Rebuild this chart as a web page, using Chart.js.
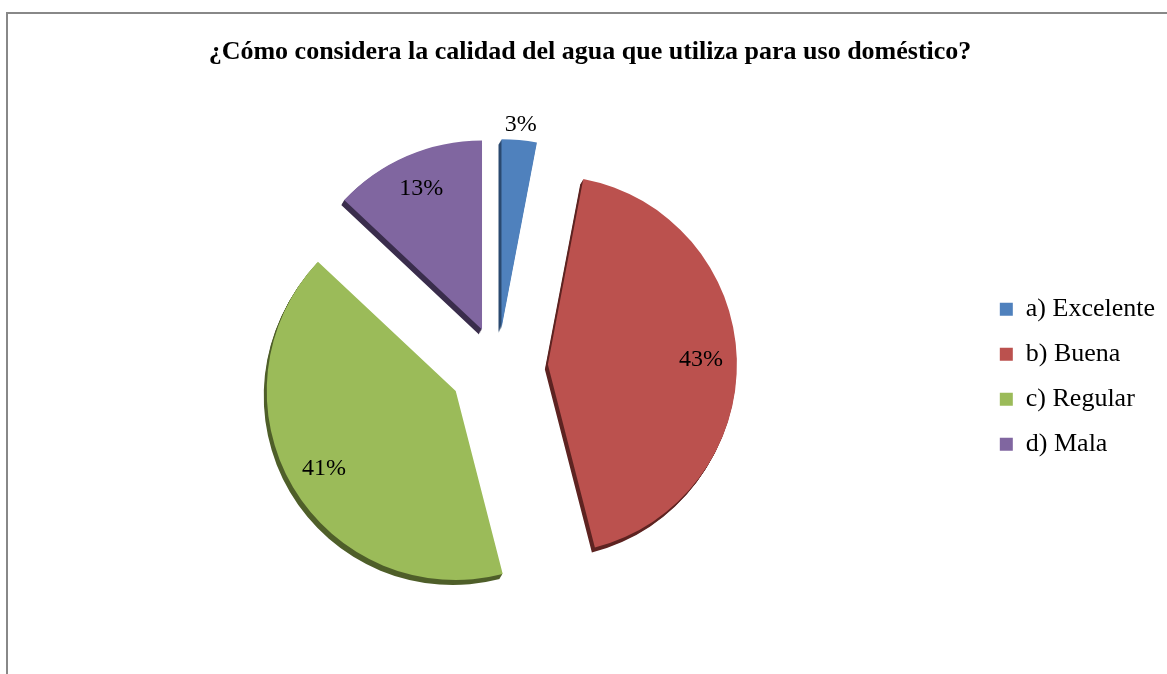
<!DOCTYPE html>
<html>
<head>
<meta charset="utf-8">
<script src="https://cdn.jsdelivr.net/npm/chart.js@4.4.1/dist/chart.umd.min.js"></script>
<style>
  html, body { margin: 0; padding: 0; background: #fff; }
  #wrap { position: relative; width: 1167px; height: 674px; overflow: hidden; }
  #frame { position: absolute; left: 6px; top: 12px; right: -2px; bottom: -2px;
           border-top: 2px solid #888; border-left: 2px solid #888; pointer-events: none; }
  canvas { position: absolute; left: 0; top: 0; }
</style>
</head>
<body>
<div id="wrap">
  <canvas id="chart" width="1167" height="674"></canvas>
  <div id="frame"></div>
</div>
<script>
const title = '¿Cómo considera la calidad del agua que utiliza para uso doméstico?';
const categories = ['a) Excelente', 'b) Buena', 'c) Regular', 'd) Mala'];
const percents = [3, 43, 41, 13];

// styling
const colors = ['#4f81bd', '#bb514e', '#9bbb59', '#8066a0'];
const depthColors = ['#2c4a70', '#5e2422', '#4f5f2a', '#3a2d4c'];
const explode = [38, 50, 49, 40];
const serif = '"Liberation Serif", "Times New Roman", serif';

// slices pulled out by a plain translation (Chart.js's own offset also grows the radius)
const baseArcDraw = Chart.ArcElement.prototype.draw;
Chart.ArcElement.prototype.draw = function (ctx) {
  const o = this.options;
  const d = o.offset || 0;
  const mid = (this.startAngle + this.endAngle) / 2;
  const i = colors.indexOf(o.backgroundColor);
  ctx.save();
  ctx.translate(Math.cos(mid) * d, Math.sin(mid) * d);
  // fake 3d edge
  if (i >= 0) {
    this.options = Object.assign({}, o, { offset: 0, backgroundColor: depthColors[i], borderColor: depthColors[i] });
    for (let k = 5; k >= 1; k--) {
      ctx.save();
      ctx.translate(-0.6 * k, k);
      baseArcDraw.call(this, ctx);
      ctx.restore();
    }
  }
  this.options = Object.assign({}, o, { offset: 0 });
  baseArcDraw.call(this, ctx);
  this.options = o;
  ctx.restore();
};

const pctLabels = {
  id: 'pctLabels',
  afterDatasetsDraw(chart) {
    const ctx = chart.ctx;
    const meta = chart.getDatasetMeta(0);
    const total = percents.reduce((a, b) => a + b, 0);
    ctx.save();
    ctx.font = '24px ' + serif;
    ctx.fillStyle = '#000';
    ctx.textAlign = 'center';
    ctx.textBaseline = 'middle';
    meta.data.forEach((arc, i) => {
      const mid = (arc.startAngle + arc.endAngle) / 2;
      const p = Math.round(percents[i] / total * 100);
      const dist = explode[i] + (p < 5 ? arc.outerRadius + 15 : arc.outerRadius * 0.81);
      ctx.fillText(p + '%', arc.x + Math.cos(mid) * dist, arc.y + Math.sin(mid) * dist);
    });
    ctx.restore();
  }
};

new Chart(document.getElementById('chart'), {
  type: 'pie',
  data: {
    labels: categories,
    datasets: [{
      data: percents,
      backgroundColor: colors,
      borderWidth: 0,
      offset: explode
    }]
  },
  options: {
    responsive: false,
    animation: false,
    radius: 189,
    layout: { padding: { left: 15, right: 2, top: 0, bottom: 16 } },
    plugins: {
      title: {
        display: true,
        text: title,
        color: '#000',
        font: { family: serif, size: 26, weight: 'bold' },
        padding: { top: 37, bottom: 6 }
      },
      legend: {
        position: 'right',
        fullSize: false,
        title: { display: true, text: '', font: { size: 1 }, padding: { top: 10, bottom: 10 } },
        labels: {
          color: '#000',
          font: { family: serif, size: 26 },
          boxWidth: 13,
          boxHeight: 13,
          padding: 19
        }
      },
      tooltip: { enabled: false }
    }
  },
  plugins: [pctLabels]
});
</script>
</body>
</html>
